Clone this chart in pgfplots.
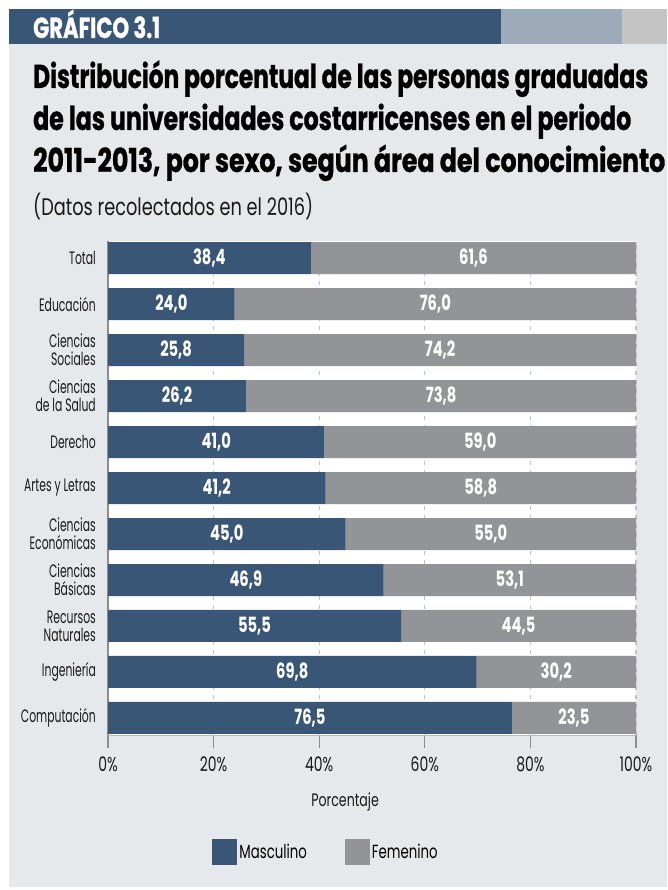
\documentclass[border=0pt]{standalone}
\usepackage{graphicx}
\usepackage{pgfplots}
\pgfplotsset{compat=1.18}
\usepackage{pgfplotstable}
\usepackage{fontspec}
\setmainfont{Poppins}[FakeStretch=0.60]
\newfontfamily\widefont{Poppins}[FakeStretch=0.70]
\newfontfamily\titlefont{Poppins}[FakeStretch=0.70, BoldFeatures={FakeBold=0.8}]
\definecolor{masc}{HTML}{3A5676}
\definecolor{fem}{HTML}{939497}
\definecolor{panel}{HTML}{E6E9EC}
\definecolor{hdrlight}{HTML}{9DAAB9}
\definecolor{hdrgrey}{HTML}{C4C4C4}
\definecolor{gridc}{HTML}{B8C2D2}
\definecolor{axisc}{HTML}{8C8C8C}

% y: 10 = Total (top) ... 0 = Computacion (bottom)
\pgfplotstableread{
y  val  lab
10 38.4 38,4
9  24.0 24,0
8  25.8 25,8
7  26.2 26,2
6  41.0 41,0
5  41.2 41,2
4  45.0 45,0
3  52.2 46,9
2  55.5 55,5
1  69.8 69,8
0  76.5 76,5
}\masctable
\pgfplotstableread{
y  val  lab
10 61.6 61,6
9  76.0 76,0
8  74.2 74,2
7  73.8 73,8
6  59.0 59,0
5  58.8 58,8
4  55.0 55,0
3  47.8 53,1
2  44.5 44,5
1  30.2 30,2
0  23.5 23,5
}\femtable

\begin{document}
\begin{tikzpicture}[x=1pt,y=-1pt]
\fill[white] (0,0) rectangle (667,890);
\useasboundingbox (0,0) rectangle (667,890);
\fill[panel] (9,44) rectangle (667,887);
\fill[masc] (9,9) rectangle (501,44);
\fill[hdrlight] (501,9) rectangle (622,44);
\fill[hdrgrey] (622,9) rectangle (667,44);
\node[anchor=base west, text=white, font=\titlefont\bfseries\fontsize{29}{29}\selectfont, inner sep=0pt] at (33,38) {\resizebox{127pt}{\height}{GRÁFICO 3.1}};
\node[anchor=base west, text=black, font=\titlefont\bfseries\fontsize{33}{33}\selectfont, inner sep=0pt] at (33,88) {\resizebox{615pt}{\height}{Distribución porcentual de las personas graduadas}};
\node[anchor=base west, text=black, font=\titlefont\bfseries\fontsize{33}{33}\selectfont, inner sep=0pt] at (33,130) {\resizebox{598pt}{\height}{de las universidades costarricenses en el periodo}};
\node[anchor=base west, text=black, font=\titlefont\bfseries\fontsize{33}{33}\selectfont, inner sep=0pt] at (33,172) {\resizebox{632pt}{\height}{2011-2013, por sexo, según área del conocimiento}};
\node[anchor=base west, text=black!90, font=\widefont\fontsize{24}{24}\selectfont, inner sep=0pt] at (33,216) {\resizebox{280pt}{\height}{(Datos recolectados en el 2016)}};
\coordinate (axsw) at (108,735);
\begin{axis}[
  at={(axsw)}, anchor=south west,
  scale only axis, width=528pt, height=494pt,
  xbar stacked, bar width=32pt,
  xmin=0, xmax=100, ymin=-0.37, ymax=10.37,
  axis background/.style={fill=white},
  axis x line*=bottom, axis y line*=left,
  x axis line style={draw=axisc!60, line width=0.8pt},
  y axis line style={draw=axisc, line width=1.4pt},
  ytick={0,...,10},
  yticklabels={Computación, Ingeniería, {Recursos\\Naturales}, {Ciencias\\Básicas}, {Ciencias\\Económicas}, Artes y Letras, Derecho, {Ciencias\\de la Salud}, {Ciencias\\Sociales}, Educación, Total},
  yticklabel style={align=right, font=\fontsize{18}{18}\selectfont, text=black!90, inner sep=0pt, xshift=1pt},
  ytick style={draw=none},
  xtick={0,20,...,100},
  xticklabels={0\%,20\%,40\%,60\%,80\%,100\%},
  xticklabel style={font=\widefont\fontsize{20}{20}\selectfont, text=black!90, yshift=-5pt},
  tick align=outside, major tick length=13pt,
  xtick style={draw=axisc, line width=1.2pt},
  xmajorgrids, grid style={draw=gridc, line width=1.3pt, dash pattern=on 4pt off 5pt},
  xlabel={Porcentaje},
  xlabel style={font=\widefont\fontsize{18}{18}\selectfont, text=black!90, at={(axis description cs:0.449,-0.135)}, anchor=center},
  legend style={at={(axis description cs:0.413,-0.237)}, anchor=center, draw=none, fill=none, legend columns=2, font=\widefont\fontsize{19}{19}\selectfont, /tikz/every even column/.append style={column sep=36pt}},
  legend image code/.code={\fill[#1] (0pt,-13pt) rectangle (25pt,13pt);},
  nodes near coords,
  point meta=explicit symbolic,
  every node near coord/.append style={anchor=center, font=\widefont\bfseries\fontsize{21}{21}\selectfont, text=white},
]
\addplot[fill=masc, draw=none] table[x=val, y=y, meta=lab] {\masctable};
\addlegendentry{Masculino}
\addplot[fill=fem, draw=none] table[x=val, y=y, meta=lab] {\femtable};
\addlegendentry{Femenino}
\end{axis}
\end{tikzpicture}
\end{document}
